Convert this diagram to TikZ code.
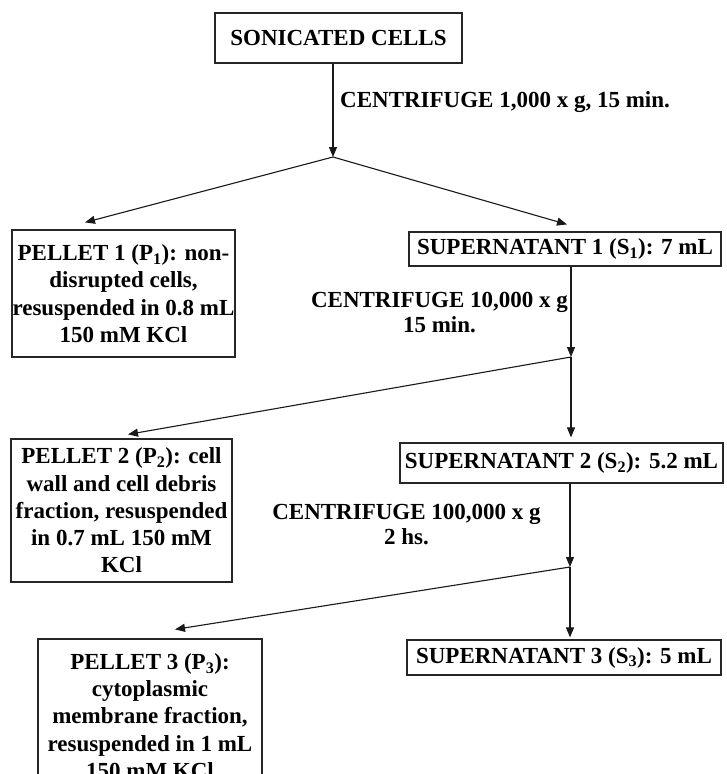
\documentclass[tikz,border=0pt]{standalone}
\usepackage{fontspec}
\setmainfont{Liberation Serif}
\usetikzlibrary{arrows.meta}
\begin{document}
\begin{tikzpicture}[x=1pt,y=1pt,
  every node/.style={font=\fontsize{23}{27.3}\selectfont\bfseries, text=black},
  box/.style={draw=black!85, line width=1.2pt, rectangle, inner sep=0pt, align=center},
  lbl/.style={align=center, inner sep=0pt, font=\fontsize{23}{25}\selectfont\bfseries},
  conn/.style={draw=black!90, line width=1.1pt, -{Triangle[length=10pt,width=8pt]}},
  seg/.style={draw=black!90, line width=1.1pt}
]
\useasboundingbox (0,0) rectangle (727,-774);
\fill[white] (0,0) rectangle (727,-774);
\clip (0,0) rectangle (727,-774);

% boxes
\node[box, minimum width=247pt, minimum height=50pt] (sonic) at (338.5,-38) {SONICATED CELLS};
\node[box, minimum width=223pt, minimum height=127pt] (p1) at (123.5,-293.5)
  {PELLET 1 (P\textsubscript{1}): non-\\disrupted cells,\\resuspended in 0.8 mL\\150 mM KCl};
\node[box, minimum width=312pt, minimum height=34pt] (s1) at (565,-249)
  {SUPERNATANT 1 (S\textsubscript{1}): 7 mL};
\node[box, minimum width=221pt, minimum height=143pt] (p2) at (121.5,-510.5)
  {PELLET 2 (P\textsubscript{2}): cell\\wall and cell debris\\fraction, resuspended\\in 0.7 mL 150 mM\\KCl};
\node[box, minimum width=323pt, minimum height=40pt] (s2) at (561.5,-463)
  {SUPERNATANT 2 (S\textsubscript{2}): 5.2 mL};
\node[box, minimum width=224pt, minimum height=154pt] (p3) at (150,-716)
  {PELLET 3 (P\textsubscript{3}):\\cytoplasmic\\membrane fraction,\\resuspended in 1 mL\\150 mM KCl};
\node[box, minimum width=314pt, minimum height=35pt] (s3) at (564,-657.5)
  {SUPERNATANT 3 (S\textsubscript{3}): 5 mL};

% labels
\node[lbl, anchor=west] (c1) at (340,-102) {CENTRIFUGE 1,000 x g, 15 min.};
\node[lbl] (c2) at (439.5,-312.5) {CENTRIFUGE 10,000 x g\\15 min.};
\node[lbl] (c3) at (406.5,-524.5) {CENTRIFUGE 100,000 x g\\2 hs.};

% junctions
\coordinate (j1) at (333,-157);
\coordinate (j2) at (571,-357);
\coordinate (j3) at (570,-567);

% connectors
\draw[conn] (j1 |- sonic.south) -- (j1);
\draw[conn] (j1) -- ([xshift=-38.5pt,yshift=7pt]p1.north);
\draw[conn] (j1) -- ([xshift=2pt,yshift=7pt]s1.north);

\draw[conn] (j2 |- s1.south) -- (j2);
\draw[conn] (j2) -- ([xshift=6.5pt,yshift=4pt]p2.north);
\draw[conn, shorten >=5pt] (j2) -- (j2 |- s2.north);

\draw[conn] (j3 |- s2.south) -- (j3);
\draw[conn] (j3) -- ([xshift=25pt,yshift=9pt]p3.north);
\draw[conn, shorten >=2pt] (j3) -- (j3 |- s3.north);
\end{tikzpicture}
\end{document}
